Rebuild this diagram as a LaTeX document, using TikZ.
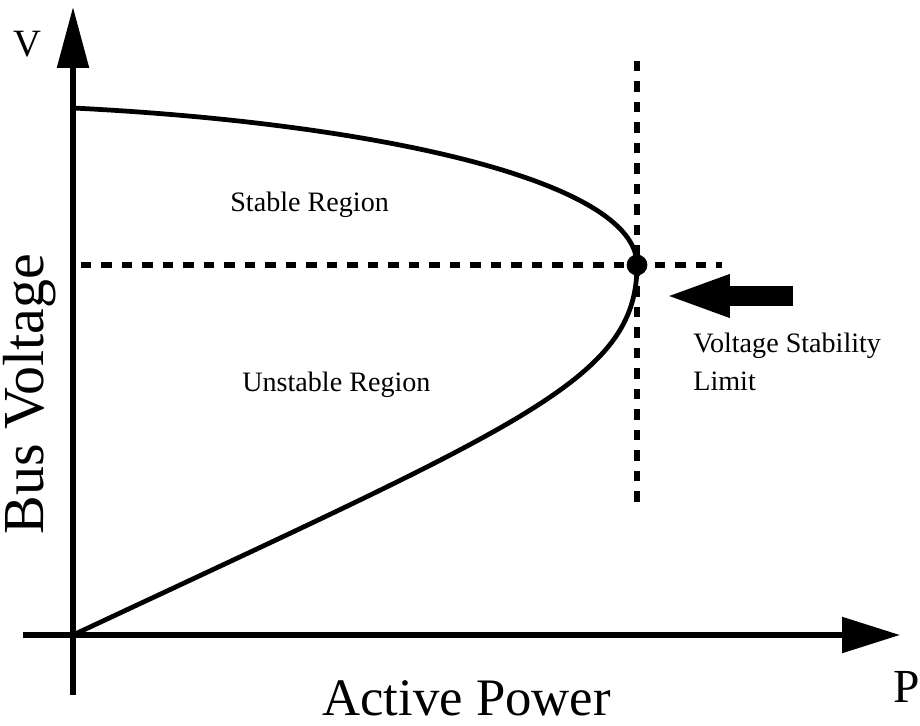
\documentclass[tikz,border=0pt]{standalone}
\usepackage{fontspec}
\setmainfont{Liberation Serif}
\usetikzlibrary{arrows.meta}

\tikzset{
    axis/.style={black, line width=3.1pt},
    curve/.style={black, line width=2.7pt},
    guide/.style={black, line width=3.3pt, dash pattern=on 0.21cm off 0.2cm},
    smalltxt/.style={inner sep=0pt, font=\fontsize{16}{19}\selectfont},
    bigtxt/.style={inner sep=0pt, font=\fontsize{30}{36}\selectfont}
}

\begin{document}
\begin{tikzpicture}[x=0.02cm, y=-0.02cm]
        \useasboundingbox (0,0) rectangle (920,726);

        \coordinate (O) at (73,635);
        \coordinate (vtop) at (73,108);
        \coordinate (nose) at (637,265);

        % axes
        \draw[axis, -{Triangle[length=1.22cm, width=0.62cm]}] (73,695) -- (73,7);
        \draw[axis, -{Triangle[length=1.16cm, width=0.7cm]}] (23,635) -- (900,635);

        % guide lines through the limit point
        \draw[guide] (81,265) -- (722,265);
        \draw[guide] (637,61) -- (637,502);

        % nose curve
        \draw[curve] (vtop) .. controls (373,123) and (637,180) .. (nose)
                     .. controls (637,380) and (523,424) .. (O);
        \filldraw[black] (nose) circle (0.2cm);

        % thick arrow pointing at the limit
        \coordinate (arrtail) at (793,296);
        \coordinate (arrtip) at (663,296);
        \draw[black, line width=0.4cm, -{Triangle[length=1.34cm, width=0.76cm]}] (arrtail) -- (arrtip);

        % labels
        \node[bigtxt, anchor=base west] (vlbl) at (13,57) {\fontsize{22}{26}\selectfont V};
        \node[bigtxt, anchor=base west] (plbl) at (893,702) {\fontsize{27}{32}\selectfont P};
        \node[bigtxt, anchor=base west] (xlbl) at (322,715) {Active Power};
        \node[bigtxt, anchor=base west, rotate=90] (ylbl) at (43,535) {\fontsize{33}{40}\selectfont Bus Voltage};
        \node[smalltxt, anchor=base west] (stable) at (230,212) {Stable Region};
        \node[smalltxt, anchor=base west] (unstable) at (242,392) {Unstable Region};
        \node[smalltxt, anchor=base west] (lim1) at (693,353) {Voltage Stability};
        \node[smalltxt, anchor=base west] (lim2) at (693,390) {Limit};
    \end{tikzpicture}
\end{document}
